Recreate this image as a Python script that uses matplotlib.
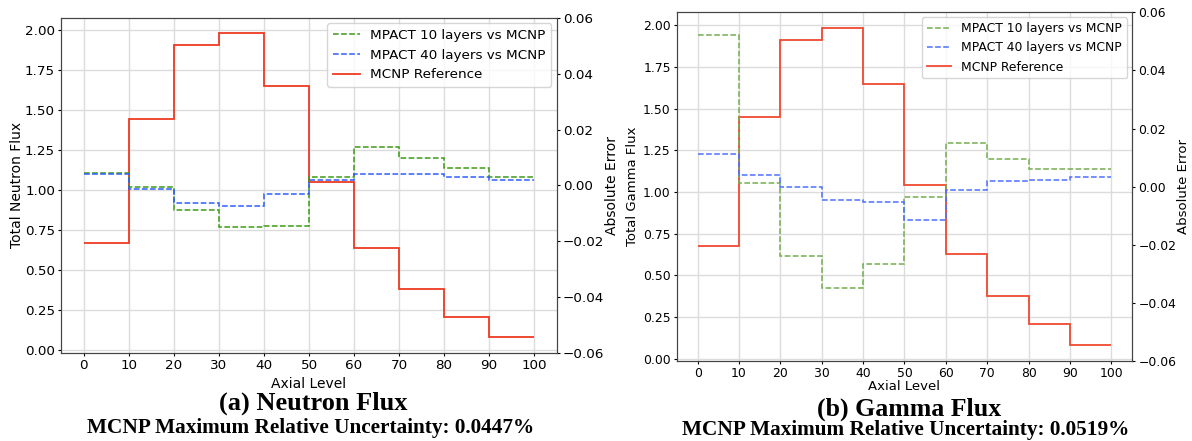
import numpy as np
import matplotlib
matplotlib.use('Agg')
import matplotlib.pyplot as plt

# axial level edges (10 bins)
axial_edges = [0, 10, 20, 30, 40, 50, 60, 70, 80, 90, 100]

# (a) neutron flux
neutron_ref = [0.666, 1.440, 1.902, 1.977, 1.645, 1.046, 0.637, 0.380, 0.207, 0.079]
neutron_err10 = [0.0043, -0.0007, -0.0090, -0.0151, -0.0146, 0.0029, 0.0138, 0.0099, 0.0061, 0.0029]
neutron_err40 = [0.0042, -0.0012, -0.0063, -0.0074, -0.0031, 0.0018, 0.0042, 0.0042, 0.0029, 0.0019]

# (b) gamma flux
gamma_ref = [0.677, 1.449, 1.912, 1.984, 1.648, 1.043, 0.629, 0.378, 0.210, 0.082]
gamma_err10 = [0.0522, 0.0014, -0.0239, -0.0350, -0.0266, -0.0037, 0.0150, 0.0094, 0.0062, 0.0062]
gamma_err40 = [0.0112, 0.0040, -0.0001, -0.0047, -0.0053, -0.0115, -0.0010, 0.0021, 0.0023, 0.0033]

W, H = 1192, 441
fig = plt.figure(figsize=(W/100., H/100.), dpi=100)


def px_axes(x0, y0, x1, y1):
    # pixel box (from top-left) -> figure fraction
    return [x0/W, 1-y1/H, (x1-x0)/W, (y1-y0)/H]


def panel(box, ref, err10, err40, ylabel, fs, lfs, cols, labx):
    ax = fig.add_axes(box)
    ax.grid(True, color='#dcdcdc', linewidth=1.0)
    ax.set_axisbelow(True)
    l_ref = ax.stairs(ref, axial_edges, baseline=None, color=cols[2], linewidth=1.3,
                      label='MCNP Reference')
    ax.set_xlim(-5, 105)
    ax.set_xticks(axial_edges)
    ax.set_xlabel('Axial Level', fontsize=lfs)
    ax.set_ylabel(ylabel, fontsize=lfs)
    ax.tick_params(labelsize=fs, length=2.5, pad=2)
    ax2 = ax.twinx()
    l10 = ax2.stairs(err10, axial_edges, baseline=None, color=cols[0], linestyle='--',
                     linewidth=1.1, label='MPACT 10 layers vs MCNP')
    l40 = ax2.stairs(err40, axial_edges, baseline=None, color=cols[1], linestyle='--',
                     linewidth=1.1, label='MPACT 40 layers vs MCNP')
    ax2.set_ylim(-0.06, 0.06)
    ax2.set_ylabel('Absolute Error', fontsize=lfs)
    ax2.tick_params(labelsize=fs, length=2.5, pad=2)
    ax.yaxis.set_label_coords(labx[0], 0.5)
    ax2.yaxis.set_label_coords(labx[1], 0.5)
    ax.xaxis.set_label_coords(0.5, labx[2])
    for a in (ax, ax2):
        for s in a.spines.values():
            s.set_color('#444444')
    ax2.legend([l10, l40, l_ref], [l10.get_label(), l40.get_label(), l_ref.get_label()],
               loc='upper right', fontsize=fs, handlelength=2.0, borderaxespad=0.4)
    return ax, ax2


panel(px_axes(61.3, 18, 556.7, 352.7), neutron_ref, neutron_err10, neutron_err40,
      'Total Neutron Flux', 9.7, 10, ['#3c9a14', '#2f5cff', '#ee3a22'],
      [-0.076, 1.098, -0.072])
panel(px_axes(677, 12.3, 1132, 361), gamma_ref, gamma_err10, gamma_err40,
      'Total Gamma Flux', 8.9, 9.5, ['#74ae50', '#4d70ff', '#f04a30'],
      [-0.084, 1.099, -0.055])

serif = ['Liberation Serif', 'DejaVu Serif']
fig.text(313/W, 1-403/H, '(a) Neutron Flux', ha='center', va='center',
         family=serif, weight='bold', fontsize=19)
fig.text(311/W, 1-428/H, 'MCNP Maximum Relative Uncertainty: 0.0447%', ha='center',
         va='center', family=serif, weight='bold', fontsize=15.3)
fig.text(909/W, 1-409/H, '(b) Gamma Flux', ha='center', va='center',
         family=serif, weight='bold', fontsize=18.6)
fig.text(906/W, 1-430/H, 'MCNP Maximum Relative Uncertainty: 0.0519%', ha='center',
         va='center', family=serif, weight='bold', fontsize=15.3)

fig.savefig('out.png', dpi=100)
